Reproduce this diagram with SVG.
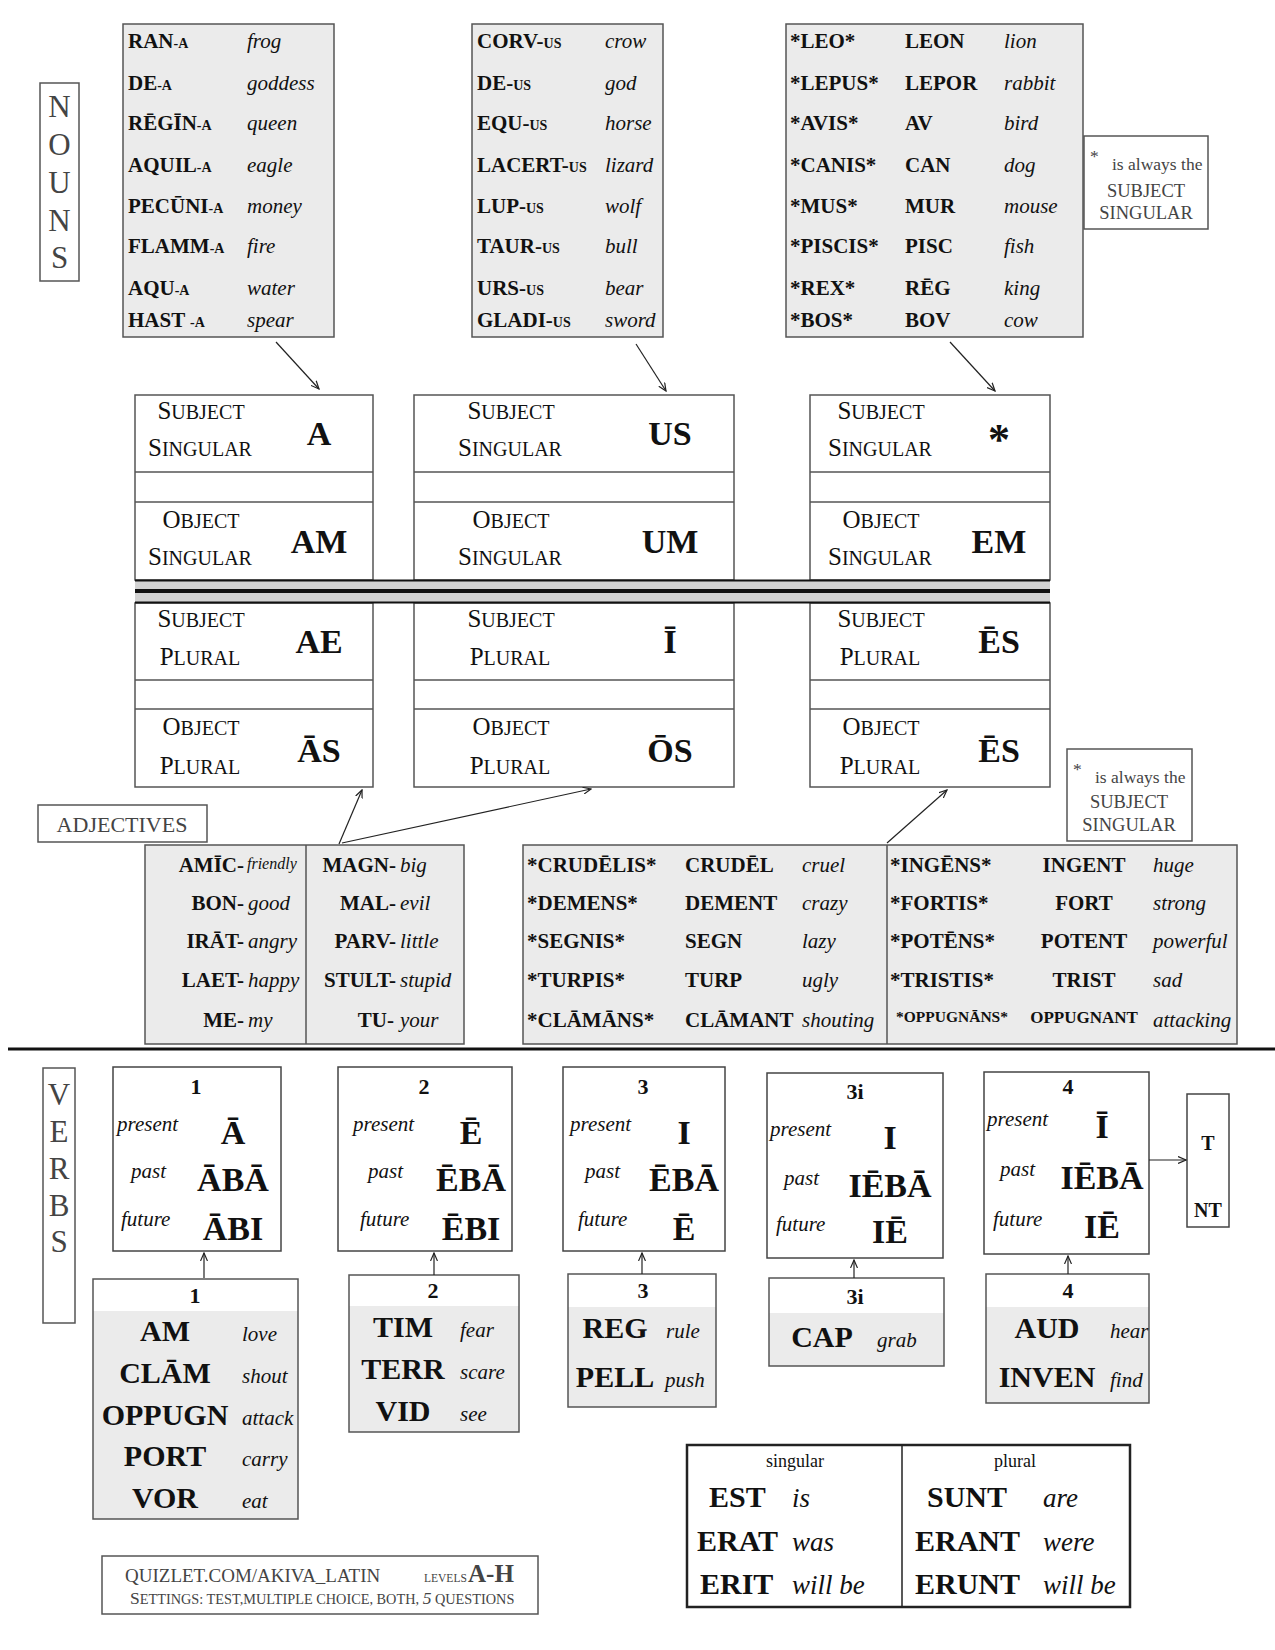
<svg xmlns="http://www.w3.org/2000/svg" width="1275" height="1650" viewBox="0 0 1275 1650">
<style>
text{font-family:"Liberation Serif","Times New Roman",serif;fill:#111}
.tb{fill:#ebebeb;stroke:#555;stroke-width:1.5}
.wb{fill:#fff;stroke:#555;stroke-width:1.5}
.b{font-weight:bold}
.i{font-style:italic}
.w{font-size:21px;font-weight:bold}
.e{font-size:21px;font-style:italic}
.s{font-size:14px}
.lab{font-size:20px;text-anchor:middle}
.suf{font-size:34px;font-weight:bold;text-anchor:middle}
.side{font-size:31px;fill:#444;text-anchor:middle}
.note{font-size:17.5px;fill:#444}
.note2{font-size:18.5px;fill:#444;text-anchor:middle}
.vt{font-size:21px;font-style:italic}
.vs{font-size:34px;font-weight:bold;text-anchor:middle}
.vn{font-size:22px;font-weight:bold;text-anchor:middle}
.lw{font-size:30px;font-weight:bold;text-anchor:middle}
.le{font-size:21px;font-style:italic}
.conn{stroke:#222;stroke-width:1.2;fill:none;marker-end:url(#ah)}
.rule{stroke:#555;stroke-width:1.5}
</style>
<defs>
<marker id="ah" markerWidth="9" markerHeight="8" refX="8" refY="4" orient="auto" markerUnits="userSpaceOnUse">
<path d="M0,0.5 L8,4 L0,7.5" fill="none" stroke="#222" stroke-width="1.2"/>
</marker>
</defs>
<rect width="1275" height="1650" fill="#fff"/>

<!-- NOUNS side label -->
<g id="nouns-label">
<rect class="wb" x="40" y="83" width="39" height="198"/>
<text class="side" x="59.5" y="117">N</text>
<text class="side" x="59.5" y="155">O</text>
<text class="side" x="59.5" y="193">U</text>
<text class="side" x="59.5" y="231">N</text>
<text class="side" x="59.5" y="268">S</text>
</g>

<!-- first declension vocabulary -->
<g id="nouns-a">
<rect class="tb" x="123" y="24" width="211" height="313"/>
<text class="w" x="128" y="48">RAN<tspan class="s">-A</tspan></text><text class="e" x="247" y="48">frog</text>
<text class="w" x="128" y="90">DE<tspan class="s">-A</tspan></text><text class="e" x="247" y="90">goddess</text>
<text class="w" x="128" y="130">RĒGĪN<tspan class="s">-A</tspan></text><text class="e" x="247" y="130">queen</text>
<text class="w" x="128" y="172">AQUIL<tspan class="s">-A</tspan></text><text class="e" x="247" y="172">eagle</text>
<text class="w" x="128" y="213">PECŪNI<tspan class="s">-A</tspan></text><text class="e" x="247" y="213">money</text>
<text class="w" x="128" y="253">FLAMM<tspan class="s">-A</tspan></text><text class="e" x="247" y="253">fire</text>
<text class="w" x="128" y="295">AQU<tspan class="s">-A</tspan></text><text class="e" x="247" y="295">water</text>
<text class="w" x="128" y="327">HAST <tspan class="s">-A</tspan></text><text class="e" x="247" y="327">spear</text>
</g>

<!-- second declension vocabulary -->
<g id="nouns-us">
<rect class="tb" x="472" y="24" width="191" height="313"/>
<text class="w" x="477" y="48">CORV-<tspan class="s">US</tspan></text><text class="e" x="605" y="48">crow</text>
<text class="w" x="477" y="90">DE-<tspan class="s">US</tspan></text><text class="e" x="605" y="90">god</text>
<text class="w" x="477" y="130">EQU-<tspan class="s">US</tspan></text><text class="e" x="605" y="130">horse</text>
<text class="w" x="477" y="172">LACERT-<tspan class="s">US</tspan></text><text class="e" x="605" y="172">lizard</text>
<text class="w" x="477" y="213">LUP-<tspan class="s">US</tspan></text><text class="e" x="605" y="213">wolf</text>
<text class="w" x="477" y="253">TAUR-<tspan class="s">US</tspan></text><text class="e" x="605" y="253">bull</text>
<text class="w" x="477" y="295">URS-<tspan class="s">US</tspan></text><text class="e" x="605" y="295">bear</text>
<text class="w" x="477" y="327">GLADI-<tspan class="s">US</tspan></text><text class="e" x="605" y="327">sword</text>
</g>

<!-- third declension vocabulary -->
<g id="nouns-third">
<rect class="tb" x="786" y="24" width="297" height="313"/>
<text class="w" x="790" y="48">*LEO*</text><text class="w" x="905" y="48">LEON</text><text class="e" x="1004" y="48">lion</text>
<text class="w" x="790" y="90">*LEPUS*</text><text class="w" x="905" y="90">LEPOR</text><text class="e" x="1004" y="90">rabbit</text>
<text class="w" x="790" y="130">*AVIS*</text><text class="w" x="905" y="130">AV</text><text class="e" x="1004" y="130">bird</text>
<text class="w" x="790" y="172">*CANIS*</text><text class="w" x="905" y="172">CAN</text><text class="e" x="1004" y="172">dog</text>
<text class="w" x="790" y="213">*MUS*</text><text class="w" x="905" y="213">MUR</text><text class="e" x="1004" y="213">mouse</text>
<text class="w" x="790" y="253">*PISCIS*</text><text class="w" x="905" y="253">PISC</text><text class="e" x="1004" y="253">fish</text>
<text class="w" x="790" y="295">*REX*</text><text class="w" x="905" y="295">RĒG</text><text class="e" x="1004" y="295">king</text>
<text class="w" x="790" y="327">*BOS*</text><text class="w" x="905" y="327">BOV</text><text class="e" x="1004" y="327">cow</text>
</g>

<g id="note-nouns">
<rect class="wb" x="1084" y="136" width="124" height="93"/>
<text class="note" x="1090" y="162">*</text>
<text class="note" x="1112" y="170">is always the</text>
<text class="note2" x="1146" y="197">SUBJECT</text>
<text class="note2" x="1146" y="219">SINGULAR</text>
</g>

<!-- case ending tables -->
<g id="case-a">
<rect class="wb" x="135" y="395" width="238" height="185"/>
<line class="rule" x1="135" y1="472" x2="373" y2="472"/>
<line class="rule" x1="135" y1="502" x2="373" y2="502"/>
<rect class="wb" x="135" y="603" width="238" height="184"/>
<line class="rule" x1="135" y1="680" x2="373" y2="680"/>
<line class="rule" x1="135" y1="709" x2="373" y2="709"/>
<text class="lab" x="201" y="419"><tspan font-size="25">S</tspan>UBJECT</text>
<text class="lab" x="200" y="456"><tspan font-size="25">S</tspan>INGULAR</text>
<text class="suf" x="319" y="445">A</text>
<text class="lab" x="201" y="528"><tspan font-size="25">O</tspan>BJECT</text>
<text class="lab" x="200" y="565"><tspan font-size="25">S</tspan>INGULAR</text>
<text class="suf" x="319" y="553">AM</text>
<text class="lab" x="201" y="627"><tspan font-size="25">S</tspan>UBJECT</text>
<text class="lab" x="200" y="665"><tspan font-size="25">P</tspan>LURAL</text>
<text class="suf" x="319" y="653">AE</text>
<text class="lab" x="201" y="735"><tspan font-size="25">O</tspan>BJECT</text>
<text class="lab" x="200" y="774"><tspan font-size="25">P</tspan>LURAL</text>
<text class="suf" x="319" y="762">ĀS</text>
</g>

<g id="case-us">
<rect class="wb" x="414" y="395" width="320" height="185"/>
<line class="rule" x1="414" y1="472" x2="734" y2="472"/>
<line class="rule" x1="414" y1="502" x2="734" y2="502"/>
<rect class="wb" x="414" y="603" width="320" height="184"/>
<line class="rule" x1="414" y1="680" x2="734" y2="680"/>
<line class="rule" x1="414" y1="709" x2="734" y2="709"/>
<text class="lab" x="511" y="419"><tspan font-size="25">S</tspan>UBJECT</text>
<text class="lab" x="510" y="456"><tspan font-size="25">S</tspan>INGULAR</text>
<text class="suf" x="670" y="445">US</text>
<text class="lab" x="511" y="528"><tspan font-size="25">O</tspan>BJECT</text>
<text class="lab" x="510" y="565"><tspan font-size="25">S</tspan>INGULAR</text>
<text class="suf" x="670" y="553">UM</text>
<text class="lab" x="511" y="627"><tspan font-size="25">S</tspan>UBJECT</text>
<text class="lab" x="510" y="665"><tspan font-size="25">P</tspan>LURAL</text>
<text class="suf" x="670" y="653">Ī</text>
<text class="lab" x="511" y="735"><tspan font-size="25">O</tspan>BJECT</text>
<text class="lab" x="510" y="774"><tspan font-size="25">P</tspan>LURAL</text>
<text class="suf" x="670" y="762">ŌS</text>
</g>

<g id="case-third">
<rect class="wb" x="810" y="395" width="240" height="185"/>
<line class="rule" x1="810" y1="472" x2="1050" y2="472"/>
<line class="rule" x1="810" y1="502" x2="1050" y2="502"/>
<rect class="wb" x="810" y="603" width="240" height="184"/>
<line class="rule" x1="810" y1="680" x2="1050" y2="680"/>
<line class="rule" x1="810" y1="709" x2="1050" y2="709"/>
<text class="lab" x="881" y="419"><tspan font-size="25">S</tspan>UBJECT</text>
<text class="lab" x="880" y="456"><tspan font-size="25">S</tspan>INGULAR</text>
<text class="suf" x="999" y="454" style="font-size:44px">*</text>
<text class="lab" x="881" y="528"><tspan font-size="25">O</tspan>BJECT</text>
<text class="lab" x="880" y="565"><tspan font-size="25">S</tspan>INGULAR</text>
<text class="suf" x="999" y="553">EM</text>
<text class="lab" x="881" y="627"><tspan font-size="25">S</tspan>UBJECT</text>
<text class="lab" x="880" y="665"><tspan font-size="25">P</tspan>LURAL</text>
<text class="suf" x="999" y="653">ĒS</text>
<text class="lab" x="881" y="735"><tspan font-size="25">O</tspan>BJECT</text>
<text class="lab" x="880" y="774"><tspan font-size="25">P</tspan>LURAL</text>
<text class="suf" x="999" y="762">ĒS</text>
</g>

<!-- singular / plural divider -->
<g id="number-divider">
<rect x="135" y="581" width="915" height="21" fill="#d2d2d2"/>
<line x1="135" y1="580.5" x2="1050" y2="580.5" stroke="#111" stroke-width="2"/>
<line x1="135" y1="591" x2="1050" y2="591" stroke="#111" stroke-width="4"/>
<line x1="135" y1="602.5" x2="1050" y2="602.5" stroke="#111" stroke-width="2"/>
</g>

<g id="adjectives-label">
<rect class="wb" x="38" y="805" width="169" height="37"/>
<text x="122" y="832" text-anchor="middle" style="font-size:22px;fill:#444">ADJECTIVES</text>
</g>

<g id="note-adjectives">
<rect class="wb" x="1067" y="749" width="125" height="92"/>
<text class="note" x="1073" y="775">*</text>
<text class="note" x="1095" y="783">is always the</text>
<text class="note2" x="1129" y="808">SUBJECT</text>
<text class="note2" x="1129" y="831">SINGULAR</text>
</g>

<!-- adjectives, -us/-a type -->
<g id="adj-us-a">
<rect class="tb" x="145" y="845" width="319" height="199"/>
<line class="rule" x1="306" y1="845" x2="306" y2="1044"/>
<g text-anchor="end">
<text class="w" x="244" y="872">AMĪC-</text>
<text class="w" x="244" y="910">BON-</text>
<text class="w" x="244" y="948">IRĀT-</text>
<text class="w" x="244" y="987">LAET-</text>
<text class="w" x="244" y="1027">ME-</text>
<text class="w" x="396" y="872">MAGN-</text>
<text class="w" x="396" y="910">MAL-</text>
<text class="w" x="396" y="948">PARV-</text>
<text class="w" x="396" y="987">STULT-</text>
<text class="w" x="394" y="1027">TU-</text>
</g>
<text class="e" x="247" y="869" style="font-size:16px">friendly</text>
<text class="e" x="248" y="910">good</text>
<text class="e" x="248" y="948">angry</text>
<text class="e" x="248" y="987">happy</text>
<text class="e" x="248" y="1027">my</text>
<text class="e" x="400" y="872">big</text>
<text class="e" x="400" y="910">evil</text>
<text class="e" x="400" y="948">little</text>
<text class="e" x="400" y="987">stupid</text>
<text class="e" x="400" y="1027">your</text>
</g>

<!-- adjectives, third declension -->
<g id="adj-third">
<rect class="tb" x="523" y="845" width="714" height="199"/>
<line class="rule" x1="887" y1="845" x2="887" y2="1044"/>
<text class="w" x="527" y="872">*CRUDĒLIS*</text><text class="w" x="685" y="872">CRUDĒL</text><text class="e" x="802" y="872">cruel</text>
<text class="w" x="527" y="910">*DEMENS*</text><text class="w" x="685" y="910">DEMENT</text><text class="e" x="802" y="910">crazy</text>
<text class="w" x="527" y="948">*SEGNIS*</text><text class="w" x="685" y="948">SEGN</text><text class="e" x="802" y="948">lazy</text>
<text class="w" x="527" y="987">*TURPIS*</text><text class="w" x="685" y="987">TURP</text><text class="e" x="802" y="987">ugly</text>
<text class="w" x="527" y="1027">*CLĀMĀNS*</text><text class="w" x="685" y="1027">CLĀMANT</text><text class="e" x="802" y="1027">shouting</text>
<text class="w" x="890" y="872">*INGĒNS*</text><text class="w" x="1084" y="872" text-anchor="middle">INGENT</text><text class="e" x="1153" y="872">huge</text>
<text class="w" x="890" y="910">*FORTIS*</text><text class="w" x="1084" y="910" text-anchor="middle">FORT</text><text class="e" x="1153" y="910">strong</text>
<text class="w" x="890" y="948">*POTĒNS*</text><text class="w" x="1084" y="948" text-anchor="middle">POTENT</text><text class="e" x="1153" y="948">powerful</text>
<text class="w" x="890" y="987">*TRISTIS*</text><text class="w" x="1084" y="987" text-anchor="middle">TRIST</text><text class="e" x="1153" y="987">sad</text>
<text class="w" x="896" y="1022" style="font-size:15.5px">*OPPUGNĀNS*</text><text class="w" x="1084" y="1023" text-anchor="middle" style="font-size:17px">OPPUGNANT</text><text class="e" x="1153" y="1027">attacking</text>
</g>

<!-- nouns / verbs separator -->
<line x1="8" y1="1049" x2="1275" y2="1049" stroke="#111" stroke-width="3"/>

<g id="verbs-label">
<rect class="wb" x="43" y="1068" width="32" height="255"/>
<text class="side" x="59" y="1105">V</text>
<text class="side" x="59" y="1142">E</text>
<text class="side" x="59" y="1179">R</text>
<text class="side" x="59" y="1216">B</text>
<text class="side" x="59" y="1252">S</text>
</g>

<!-- conjugation ending boxes -->
<g id="conj-1">
<rect class="wb" x="113" y="1067" width="168" height="184" style="stroke:#444"/>
<text class="vn" x="196" y="1094">1</text>
<text class="vt" x="117" y="1131">present</text><text class="vs" x="233" y="1144">Ā</text>
<text class="vt" x="131" y="1178">past</text><text class="vs" x="233" y="1191">ĀBĀ</text>
<text class="vt" x="121" y="1226">future</text><text class="vs" x="233" y="1240">ĀBI</text>
</g>
<g id="conj-2">
<rect class="wb" x="338" y="1067" width="174" height="184" style="stroke:#444"/>
<text class="vn" x="424" y="1094">2</text>
<text class="vt" x="353" y="1131">present</text><text class="vs" x="471" y="1144">Ē</text>
<text class="vt" x="368" y="1178">past</text><text class="vs" x="471" y="1191">ĒBĀ</text>
<text class="vt" x="360" y="1226">future</text><text class="vs" x="471" y="1240">ĒBI</text>
</g>
<g id="conj-3">
<rect class="wb" x="563" y="1067" width="162" height="184" style="stroke:#444"/>
<text class="vn" x="643" y="1094">3</text>
<text class="vt" x="570" y="1131">present</text><text class="vs" x="684" y="1144">I</text>
<text class="vt" x="585" y="1178">past</text><text class="vs" x="684" y="1191">ĒBĀ</text>
<text class="vt" x="578" y="1226">future</text><text class="vs" x="684" y="1240">Ē</text>
</g>
<g id="conj-3i">
<rect class="wb" x="767" y="1073" width="176" height="185" style="stroke:#444"/>
<text class="vn" x="855" y="1099">3i</text>
<text class="vt" x="770" y="1136">present</text><text class="vs" x="890" y="1149">I</text>
<text class="vt" x="784" y="1185">past</text><text class="vs" x="890" y="1197">IĒBĀ</text>
<text class="vt" x="776" y="1231">future</text><text class="vs" x="890" y="1243">IĒ</text>
</g>
<g id="conj-4">
<rect class="wb" x="984" y="1072" width="165" height="182" style="stroke:#444"/>
<text class="vn" x="1068" y="1094">4</text>
<text class="vt" x="987" y="1126">present</text><text class="vs" x="1102" y="1138">Ī</text>
<text class="vt" x="1000" y="1176">past</text><text class="vs" x="1102" y="1189">IĒBĀ</text>
<text class="vt" x="993" y="1226">future</text><text class="vs" x="1102" y="1238">IĒ</text>
</g>
<g id="person-endings">
<rect class="wb" x="1187" y="1094" width="42" height="133" style="stroke:#444"/>
<text class="vn" x="1208" y="1150" style="font-size:20px">T</text>
<text class="vn" x="1208" y="1217" style="font-size:20px">NT</text>
</g>

<!-- verb vocabulary boxes -->
<g id="verbs-1">
<rect x="93" y="1311" width="205" height="208" fill="#ebebeb"/>
<rect x="93" y="1279" width="205" height="240" fill="none" stroke="#555" stroke-width="1.5"/>
<text class="vn" x="195" y="1303">1</text>
<text class="lw" x="165" y="1341">AM</text><text class="le" x="242" y="1341">love</text>
<text class="lw" x="165" y="1383">CLĀM</text><text class="le" x="242" y="1383">shout</text>
<text class="lw" x="165" y="1425">OPPUGN</text><text class="le" x="242" y="1425">attack</text>
<text class="lw" x="165" y="1466">PORT</text><text class="le" x="242" y="1466">carry</text>
<text class="lw" x="165" y="1508">VOR</text><text class="le" x="242" y="1508">eat</text>
</g>
<g id="verbs-2">
<rect x="349" y="1306" width="170" height="126" fill="#ebebeb"/>
<rect x="349" y="1275" width="170" height="157" fill="none" stroke="#555" stroke-width="1.5"/>
<text class="vn" x="433" y="1298">2</text>
<text class="lw" x="403" y="1337">TIM</text><text class="le" x="460" y="1337">fear</text>
<text class="lw" x="403" y="1379">TERR</text><text class="le" x="460" y="1379">scare</text>
<text class="lw" x="403" y="1421">VID</text><text class="le" x="460" y="1421">see</text>
</g>
<g id="verbs-3">
<rect x="568" y="1307" width="148" height="100" fill="#ebebeb"/>
<rect x="568" y="1274" width="148" height="133" fill="none" stroke="#555" stroke-width="1.5"/>
<text class="vn" x="643" y="1298">3</text>
<text class="lw" x="615" y="1338">REG</text><text class="le" x="666" y="1338">rule</text>
<text class="lw" x="615" y="1387">PELL</text><text class="le" x="665" y="1387">push</text>
</g>
<g id="verbs-3i">
<rect x="769" y="1313" width="175" height="53" fill="#ebebeb"/>
<rect x="769" y="1278" width="175" height="88" fill="none" stroke="#555" stroke-width="1.5"/>
<text class="vn" x="855" y="1304">3i</text>
<text class="lw" x="822" y="1347">CAP</text><text class="le" x="877" y="1347">grab</text>
</g>
<g id="verbs-4">
<rect x="986" y="1307" width="163" height="96" fill="#ebebeb"/>
<rect x="986" y="1274" width="163" height="129" fill="none" stroke="#555" stroke-width="1.5"/>
<text class="vn" x="1068" y="1298">4</text>
<text class="lw" x="1047" y="1338">AUD</text><text class="le" x="1110" y="1338">hear</text>
<text class="lw" x="1047" y="1387">INVEN</text><text class="le" x="1110" y="1387">find</text>
</g>

<!-- forms of "to be" -->
<g id="esse">
<rect x="687" y="1445" width="443" height="162" fill="#fff" stroke="#222" stroke-width="2.5"/>
<line x1="902" y1="1445" x2="902" y2="1607" stroke="#222" stroke-width="1.5"/>
<text x="795" y="1467" text-anchor="middle" font-size="18">singular</text>
<text x="1015" y="1467" text-anchor="middle" font-size="18">plural</text>
<text class="b" x="709" y="1507" font-size="30">EST</text><text class="i" x="792" y="1507" font-size="27">is</text>
<text class="b" x="697" y="1551" font-size="30">ERAT</text><text class="i" x="792" y="1551" font-size="27">was</text>
<text class="b" x="700" y="1594" font-size="30">ERIT</text><text class="i" x="792" y="1594" font-size="27">will be</text>
<text class="b" x="927" y="1507" font-size="30">SUNT</text><text class="i" x="1043" y="1507" font-size="27">are</text>
<text class="b" x="915" y="1551" font-size="30">ERANT</text><text class="i" x="1043" y="1551" font-size="27">were</text>
<text class="b" x="915" y="1594" font-size="30">ERUNT</text><text class="i" x="1043" y="1594" font-size="27">will be</text>
</g>

<!-- practice link -->
<g id="footer">
<rect x="102" y="1556" width="436" height="58" fill="#fff" stroke="#555" stroke-width="1.5"/>
<text x="125" y="1582" style="font-size:19px;fill:#444">QUIZLET.COM/AKIVA_LATIN</text>
<text x="424" y="1582" style="font-size:11.5px;fill:#444">LEVELS</text>
<text class="b" x="468" y="1582" style="font-size:25px;fill:#444">A-H</text>
<text x="130" y="1604" style="font-size:14.3px;fill:#444"><tspan font-size="17.5">S</tspan>ETTINGS: TEST,MULTIPLE CHOICE, BOTH, <tspan font-size="17.5" font-style="italic">5</tspan> QUESTIONS</text>
</g>

<!-- connectors -->
<g id="connectors">
<line class="conn" x1="276" y1="342" x2="319" y2="389"/>
<line class="conn" x1="636" y1="344" x2="666" y2="391"/>
<line class="conn" x1="950" y1="342" x2="995" y2="391"/>
<line class="conn" x1="339" y1="844" x2="362" y2="790"/>
<line class="conn" x1="342" y1="843" x2="591" y2="789"/>
<line class="conn" x1="887" y1="843" x2="947" y2="790"/>
<line class="conn" x1="204" y1="1278" x2="204" y2="1253"/>
<line class="conn" x1="434" y1="1275" x2="434" y2="1253"/>
<line class="conn" x1="642" y1="1274" x2="642" y2="1253"/>
<line class="conn" x1="854" y1="1278" x2="854" y2="1260"/>
<line class="conn" x1="1068" y1="1274" x2="1068" y2="1256"/>
<line class="conn" x1="1149" y1="1160" x2="1186" y2="1160"/>
</g>
</svg>
